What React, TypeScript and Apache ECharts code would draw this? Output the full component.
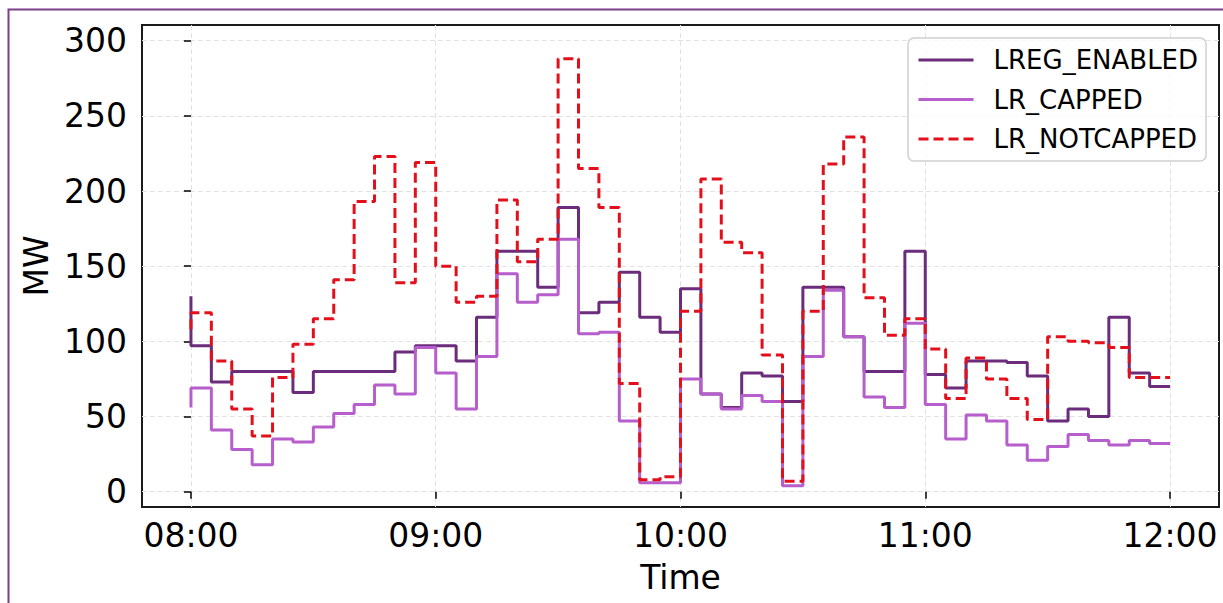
import React, { useEffect, useRef } from 'react';
import * as echarts from 'echarts';

const times = [
  '08:00', '08:05', '08:10', '08:15', '08:20', '08:25', '08:30', '08:35', '08:40', '08:45', '08:50', '08:55',
  '09:00', '09:05', '09:10', '09:15', '09:20', '09:25', '09:30', '09:35', '09:40', '09:45', '09:50', '09:55',
  '10:00', '10:05', '10:10', '10:15', '10:20', '10:25', '10:30', '10:35', '10:40', '10:45', '10:50', '10:55',
  '11:00', '11:05', '11:10', '11:15', '11:20', '11:25', '11:30', '11:35', '11:40', '11:45', '11:50', '11:55',
  '12:00',
];

const lregEnabled = [
  130, 97, 73, 80, 80, 80, 66, 80, 80, 80, 80, 93,
  97, 97, 87, 116, 160, 160, 136, 189, 119, 126, 146, 116,
  106, 135, 65, 56, 79, 77, 60, 136, 136, 103, 80, 80,
  160, 78, 69, 87, 87, 86, 77, 47, 55, 50, 116, 79,
  70,
];

const lrCapped = [
  56, 69, 41, 28, 18, 35, 33, 43, 52, 58, 71, 65,
  96, 79, 55, 90, 145, 126, 131, 168, 105, 106, 47, 6,
  6, 75, 65, 55, 64, 60, 4, 90, 134, 103, 63, 56,
  112, 58, 35, 51, 47, 31, 21, 30, 38, 34, 31, 34,
  32,
];

const lrNotCapped = [
  108, 119, 87, 55, 37, 76, 98, 115, 141, 193, 223, 139,
  219, 150, 126, 130, 194, 153, 168, 288, 215, 189, 72, 8,
  10, 120, 208, 166, 159, 91, 7, 120, 218, 236, 129, 104,
  115, 95, 62, 89, 75, 62, 48, 103, 100, 99, 96, 76,
  76,
];

const xTickLabels = ['08:00', '09:00', '10:00', '11:00', '12:00'];
const yTickValues = [0, 50, 100, 150, 200, 250, 300];

const BASE = '08:00';
const toMin = (t: string) => {
  const [h, m] = t.split(':').map(Number);
  const [bh, bm] = BASE.split(':').map(Number);
  return h * 60 + m - (bh * 60 + bm);
};
const fmt = (v: number) => {
  const [bh, bm] = BASE.split(':').map(Number);
  const total = Math.round(v) + bh * 60 + bm;
  const h = Math.floor(total / 60);
  const m = total % 60;
  return `${String(h).padStart(2, '0')}:${String(m).padStart(2, '0')}`;
};

const FONT = 'DejaVu Sans';

export default function App() {
  const ref = useRef<HTMLDivElement>(null);

  useEffect(() => {
    document.body.style.margin = '0';
    if (!ref.current) return;
    const chart = echarts.init(ref.current, undefined, { renderer: 'svg' });
    const xTicks = xTickLabels.map(toMin);
    const mk = (vals: number[]) => times.map((t, i) => [toMin(t), vals[i]]);

    const option: any = {
      animation: false,
      backgroundColor: '#ffffff',
      textStyle: { fontFamily: FONT },
      graphic: [
        {
          type: 'rect',
          silent: true,
          z: -10,
          shape: { x: 8.5, y: 9.5, width: 1400, height: 900 },
          style: { fill: 'none', stroke: '#7b3f8c', lineWidth: 2 },
        },
      ],
      grid: {
        left: 142,
        top: 25,
        width: 1077,
        height: 482,
        show: true,
        borderColor: '#1a1a1a',
        borderWidth: 2,
        backgroundColor: 'transparent',
      },
      legend: {
        orient: 'vertical',
        left: 908,
        top: 38,
        padding: [7, 8, 7, 9],
        itemWidth: 55,
        itemHeight: 14,
        itemGap: 9.5,
        backgroundColor: 'rgba(255,255,255,0.8)',
        borderColor: '#d0d0d0',
        borderWidth: 1.5,
        borderRadius: 6,
        itemStyle: { opacity: 0 },
        lineStyle: { width: 3 },
        textStyle: {
          fontFamily: FONT,
          fontSize: 26,
          lineHeight: 30,
          color: '#000',
          padding: [0, 0, 0, 15],
        },
        data: ['LREG_ENABLED', 'LR_CAPPED', 'LR_NOTCAPPED'],
      },
      xAxis: {
        type: 'value',
        min: -12,
        max: 252,
        axisLine: { show: false },
        axisTick: {
          show: true,
          customValues: xTicks,
          length: 7,
          lineStyle: { color: '#000', width: 1.5 },
        },
        axisLabel: {
          customValues: xTicks,
          formatter: (v: number) => fmt(v),
          fontSize: 33,
          fontFamily: FONT,
          color: '#000',
          margin: 12,
        },
        splitLine: {
          show: true,
          lineStyle: { color: '#e2e2e2', type: [5, 3], width: 1 },
        },
        name: 'Time',
        nameLocation: 'middle',
        nameGap: 54,
        nameTextStyle: { fontSize: 33, fontFamily: FONT, color: '#000' },
      },
      yAxis: {
        type: 'value',
        min: -10.18,
        max: 310.44,
        axisLine: { show: false },
        axisTick: {
          show: true,
          customValues: yTickValues,
          length: 7,
          lineStyle: { color: '#000', width: 1.5 },
        },
        axisLabel: {
          customValues: yTickValues,
          fontSize: 33,
          fontFamily: FONT,
          color: '#000',
          margin: 15,
        },
        splitLine: {
          show: true,
          lineStyle: { color: '#e2e2e2', type: [5, 3], width: 1 },
        },
        name: 'MW',
        nameLocation: 'middle',
        nameRotate: 90,
        nameGap: 85,
        nameTextStyle: { fontSize: 33, fontFamily: FONT, color: '#000' },
      },
      series: [
        {
          name: 'LREG_ENABLED',
          type: 'line',
          step: 'start',
          symbol: 'none',
          data: mk(lregEnabled),
          color: '#6c2c7c',
          lineStyle: { color: '#6c2c7c', width: 3 },
          emphasis: { disabled: true },
        },
        {
          name: 'LR_CAPPED',
          type: 'line',
          step: 'start',
          symbol: 'none',
          data: mk(lrCapped),
          color: '#b65ecb',
          lineStyle: { color: '#b65ecb', width: 3 },
          emphasis: { disabled: true },
        },
        {
          name: 'LR_NOTCAPPED',
          type: 'line',
          step: 'start',
          symbol: 'none',
          data: mk(lrNotCapped),
          color: '#e3101c',
          lineStyle: { color: '#e3101c', width: 3, type: [10, 5] },
          emphasis: { disabled: true },
        },
      ],
    };

    chart.setOption(option);
    return () => chart.dispose();
  }, []);

  return (
    <div
      ref={ref}
      style={{ position: 'fixed', left: 0, top: 0, width: 1223, height: 603 }}
    />
  );
}
